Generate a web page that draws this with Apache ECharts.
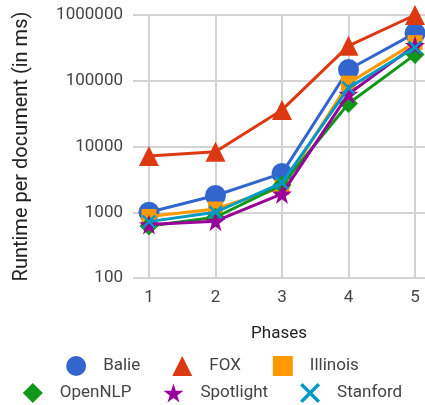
<!DOCTYPE html>
<html>
<head>
<meta charset="utf-8">
<script src="https://cdn.jsdelivr.net/npm/echarts@6/dist/echarts.min.js"></script>
<style>html,body{margin:0;padding:0;background:#fff;}#c{width:425px;height:405px;}</style>
</head>
<body>
<div id="c"></div>
<script>
const phases = [1, 2, 3, 4, 5];
const yTicks = [100, 1000, 10000, 100000, 1000000];
const seriesNames = ['Balie', 'FOX', 'Illinois', 'OpenNLP', 'Spotlight', 'Stanford'];
const balie = [1000, 1800, 3900, 148000, 530000];
const fox = [7200, 8300, 36000, 340000, 1000000];
const illinois = [860, 1120, 2400, 92000, 380000];
const opennlp = [620, 840, 2600, 45000, 250000];
const spotlight = [650, 730, 1900, 63000, 345000];
const stanford = [720, 1000, 2800, 78000, 320000];

const STAR = 'path://M50,0 L61,35 L98,35 L68,57 L79,91 L50,70 L21,91 L32,57 L2,35 L39,35 Z';
const CROSS = 'path://M0,12 L12,0 L50,38 L88,0 L100,12 L62,50 L100,88 L88,100 L50,62 L12,100 L0,88 L38,50 Z';

const colors = ['#3366cc', '#dc3912', '#ff9900', '#109618', '#990099', '#0099c6'];
const symbols = ['circle', 'triangle', 'rect', 'diamond', STAR, CROSS];
const sizes = [21, 20, 15, 19, 20, 14];
const values = [balie, fox, illinois, opennlp, spotlight, stanford];

const chart = echarts.init(document.getElementById('c'));
const font = 'Roboto, sans-serif';

const series = seriesNames.map((n, i) => ({
  name: n,
  type: 'line',
  data: values[i].map((v, j) => [phases[j], v]),
  symbol: symbols[i],
  symbolSize: sizes[i],
  showAllSymbol: true,
  lineStyle: { width: 3, color: colors[i] },
  itemStyle: { color: colors[i] },
  emphasis: { disabled: true },
  clip: false,
  z: 2 + i
}));

const legendBase = {
  orient: 'horizontal',
  left: 'center',
  itemWidth: 20,
  itemHeight: 20,
  itemGap: 32,
  padding: 0,
  textStyle: { fontSize: 17, color: '#444', fontFamily: font, padding: [0, 0, 0, 12] }
};

chart.setOption({
  animation: false,
  color: colors,
  grid: { left: 133, right: 0, top: 15, bottom: 127, containLabel: false },
  xAxis: {
    type: 'value',
    min: 0.76,
    max: 5.15,
    name: 'Phases',
    nameLocation: 'middle',
    nameGap: 47,
    nameTextStyle: { fontSize: 17, color: '#222', fontFamily: font },
    axisLine: { show: false },
    axisTick: { show: false, customValues: phases },
    axisLabel: { customValues: phases, fontSize: 17, color: '#444', fontFamily: font, margin: 11 },
    splitLine: { show: true, lineStyle: { color: '#d3d3d3', width: 2 } }
  },
  yAxis: {
    type: 'log',
    logBase: 10,
    min: yTicks[0],
    max: yTicks[yTicks.length - 1],
    name: 'Runtime per document (in ms)',
    nameLocation: 'middle',
    nameGap: 101,
    nameTextStyle: { fontSize: 20, color: '#222', fontFamily: font },
    axisLine: { show: false },
    axisTick: { show: false },
    axisLabel: { fontSize: 17, color: '#444', fontFamily: font, margin: 10, formatter: v => String(Math.round(v)) },
    splitLine: { show: true, lineStyle: { color: '#d3d3d3', width: 2 } }
  },
  legend: [
    Object.assign({}, legendBase, {
      top: 356,
      data: seriesNames.slice(0, 3).map((n, i) => ({ name: n, icon: symbols[i] }))
    }),
    Object.assign({}, legendBase, {
      top: 383,
      data: seriesNames.slice(3).map((n, i) => ({ name: n, icon: symbols[i + 3] }))
    })
  ],
  series: series
});
</script>
</body>
</html>
